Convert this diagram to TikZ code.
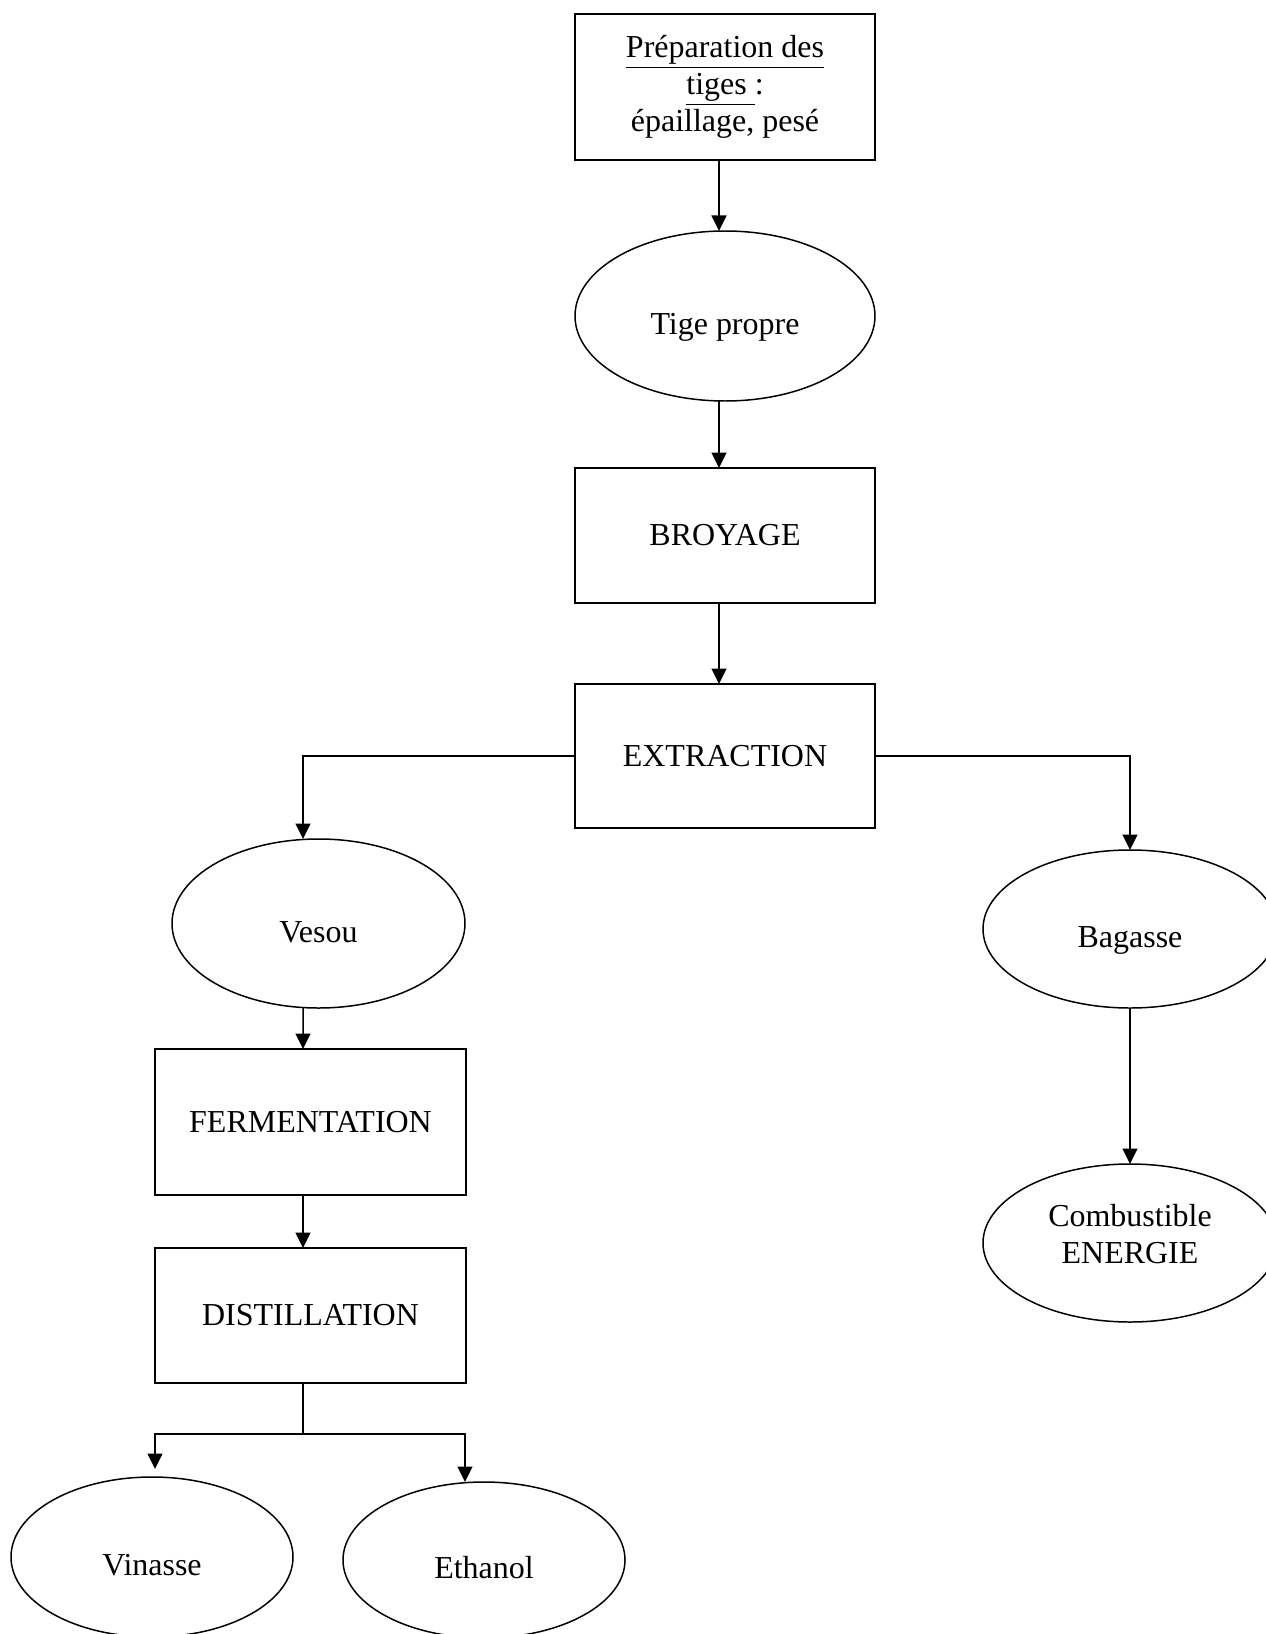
\documentclass[tikz,border=0pt]{standalone}
\usepackage{fontspec}
\setmainfont{Liberation Serif}
\usetikzlibrary{shapes.geometric,arrows.meta,positioning}

\begin{document}
\begin{tikzpicture}[auto, node distance=1.4cm, >={Triangle[length=3.1mm,width=3mm]}]
	%define block styles
	\tikzset{
		operation/.style={rectangle, minimum width=6cm, minimum height=2.7cm, outer sep=0pt, text centered, align=center, draw=black, line width=1.1pt, font=\fontsize{18.2}{21}\selectfont},
		produit/.style={ellipse, minimum width=5.88cm, minimum height=3.16cm, inner sep=0pt, outer sep=0pt, text height=0.75cm, text depth=0cm, text centered, align=center, draw=black, line width=0.85pt, font=\fontsize{18.2}{21}\selectfont},
		arrow/.style={line width=0.85pt,->},
	}
	\useasboundingbox (0,0) rectangle (25.32,-32.68);
	%define nodes
	\node[operation, minimum height=2.92cm] (prep) at (14.5,-1.74) {\underline{Préparation des}\\\underline{tiges\ }:\\épaillage, pesé};
	\node[produit, minimum width=6cm, minimum height=3.4cm, below=1.42cm of prep] (tige) {Tige propre};
	\node[operation, below=1.34cm of tige] (broyage) {BROYAGE};
	\node[operation, minimum height=2.88cm, below=1.62cm of broyage] (extraction) {EXTRACTION};
	\node[produit, minimum width=5.86cm, minimum height=3.38cm, below=0.22cm of extraction.south, xshift=-8.13cm] (vesou) {Vesou};
	\node[operation, minimum width=6.22cm, minimum height=2.92cm, below=0.82cm of vesou, xshift=-0.16cm] (fermentation) {FERMENTATION};
	\node[operation, minimum width=6.22cm, below=1.06cm of fermentation] (distillation) {DISTILLATION};
	\node[produit, minimum width=5.64cm, minimum height=3.2cm, below=1.88cm of distillation, xshift=-3.17cm] (vinasse) {Vinasse};
	\node[produit, minimum width=5.64cm, minimum height=3.12cm, below=1.98cm of distillation, xshift=3.47cm] (ethanol) {Ethanol};
	\node[produit, below=0.44cm of extraction.south, xshift=8.1cm] (bagasse) {Bagasse};
	\node[produit, text height=0.8cm, below=3.12cm of bagasse] (energie) {Combustible\\ENERGIE};
	\coordinate[below=1.02cm of distillation.south, xshift=-0.15cm] (split);
	%define arrows
	\draw[arrow] ([xshift=-0.12cm]prep.south) -- ([xshift=-0.12cm]tige.north);
	\draw[arrow] ([xshift=-0.12cm]tige.south) -- ([xshift=-0.12cm]broyage.north);
	\draw[arrow] ([xshift=-0.12cm]broyage.south) -- ([xshift=-0.12cm]extraction.north);
	\draw[arrow] (extraction.west) -| ([xshift=-0.31cm]vesou.north);
	\draw[arrow] (extraction.east) -| (bagasse.north);
	\draw[arrow] (bagasse) -- (energie);
	\draw[arrow] ([xshift=-0.31cm]vesou.south) -- ([xshift=-0.15cm]fermentation.north);
	\draw[arrow] ([xshift=-0.15cm]fermentation.south) -- ([xshift=-0.15cm]distillation.north);
	\draw[line width=0.85pt] ([xshift=-0.15cm]distillation.south) -- (split);
	\draw[arrow] (split) -| ([xshift=0.06cm, yshift=0.16cm]vinasse.north);
	\draw[arrow] (split) -| ([xshift=-0.38cm]ethanol.north);
\end{tikzpicture}
\end{document}
